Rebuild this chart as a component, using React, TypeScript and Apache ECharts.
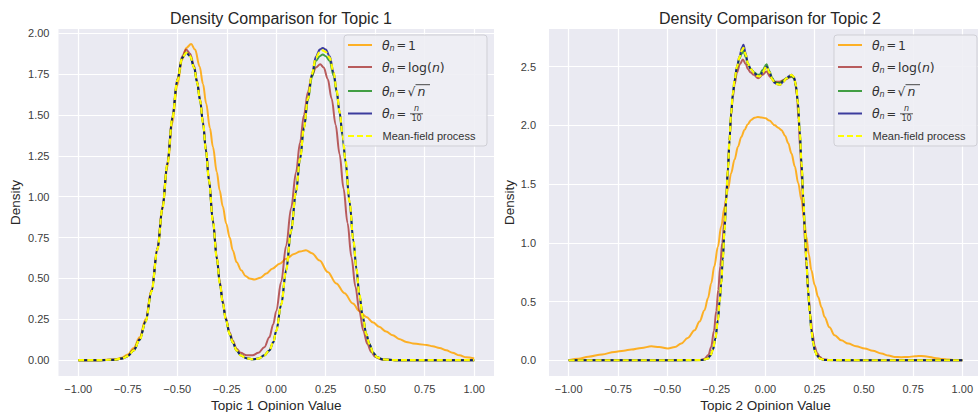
import React, { useEffect, useRef } from 'react';
import * as echarts from 'echarts';

type Pt = [number, number];

const titles = ['Density Comparison for Topic 1', 'Density Comparison for Topic 2'];
const xNames = ['Topic 1 Opinion Value', 'Topic 2 Opinion Value'];
const yName = 'Density';

const xTicks = [-1, -0.75, -0.5, -0.25, 0, 0.25, 0.5, 0.75, 1];
const yTicks1 = [0, 0.25, 0.5, 0.75, 1, 1.25, 1.5, 1.75, 2];
const yTicks2 = [0, 0.5, 1, 1.5, 2, 2.5];

const seriesNames = ['θn = 1', 'θn = log(n)', 'θn = √n', 'θn = n/10', 'Mean-field process'];
const seriesColors = ['#FFA500', '#A52A2A', '#008000', '#000080', '#FFFF00'];
const seriesOpacity = [0.85, 0.75, 0.72, 0.75, 1];

// ---------- Topic 1 ----------
const topic1Orange: Pt[] = [
  [-1, 0], [-0.9, 0], [-0.82, 0.005], [-0.78, 0.015], [-0.75, 0.035], [-0.72, 0.075], [-0.69, 0.14],
  [-0.66, 0.25], [-0.63, 0.43], [-0.6, 0.67], [-0.575, 0.92], [-0.55, 1.18], [-0.525, 1.45], [-0.5, 1.68],
  [-0.475, 1.84], [-0.455, 1.91], [-0.43, 1.934], [-0.41, 1.9], [-0.387, 1.795], [-0.37, 1.69],
  [-0.354, 1.57], [-0.335, 1.42], [-0.32, 1.305], [-0.3, 1.15], [-0.286, 1.04], [-0.27, 0.94],
  [-0.253, 0.837], [-0.235, 0.75], [-0.22, 0.673], [-0.2, 0.6], [-0.177, 0.55], [-0.155, 0.515],
  [-0.135, 0.5], [-0.11, 0.494], [-0.08, 0.505], [-0.05, 0.53], [-0.02, 0.56], [0.017, 0.59],
  [0.05, 0.62], [0.09, 0.65], [0.12, 0.665], [0.15, 0.673], [0.18, 0.655], [0.219, 0.61],
  [0.26, 0.54], [0.303, 0.47], [0.345, 0.41], [0.387, 0.347], [0.42, 0.3], [0.455, 0.265],
  [0.49, 0.23], [0.52, 0.204], [0.555, 0.175], [0.589, 0.153], [0.62, 0.13], [0.657, 0.112],
  [0.69, 0.103], [0.724, 0.098], [0.76, 0.093], [0.79, 0.086], [0.825, 0.075], [0.859, 0.061],
  [0.89, 0.046], [0.926, 0.03], [0.96, 0.018], [1, 0.01],
];
const topic1Red: Pt[] = [
  [-1, 0], [-0.9, 0], [-0.82, 0.003], [-0.78, 0.01], [-0.75, 0.027], [-0.72, 0.065], [-0.69, 0.13],
  [-0.66, 0.24], [-0.63, 0.43], [-0.6, 0.69], [-0.575, 0.94], [-0.55, 1.21], [-0.525, 1.49], [-0.5, 1.72],
  [-0.475, 1.86], [-0.455, 1.9], [-0.435, 1.875], [-0.415, 1.8], [-0.4, 1.71], [-0.385, 1.6],
  [-0.37, 1.46], [-0.355, 1.29], [-0.34, 1.11], [-0.32, 0.86], [-0.3, 0.63], [-0.285, 0.48],
  [-0.27, 0.36], [-0.255, 0.26], [-0.235, 0.17], [-0.22, 0.12], [-0.2, 0.07], [-0.18, 0.045],
  [-0.15, 0.03], [-0.12, 0.03], [-0.09, 0.045], [-0.06, 0.08], [-0.035, 0.14], [-0.015, 0.22],
  [0, 0.3], [0.025, 0.48], [0.05, 0.7], [0.075, 0.93], [0.1, 1.15], [0.12, 1.33], [0.14, 1.5],
  [0.16, 1.64], [0.18, 1.74], [0.2, 1.79], [0.222, 1.81], [0.24, 1.79], [0.26, 1.72], [0.28, 1.6],
  [0.3, 1.44], [0.32, 1.26], [0.34, 1.05], [0.36, 0.84], [0.38, 0.63], [0.4, 0.45], [0.42, 0.3],
  [0.44, 0.18], [0.46, 0.1], [0.48, 0.05], [0.5, 0.02], [0.53, 0.005], [0.6, 0], [0.8, 0], [1, 0],
];
const topic1Green: Pt[] = [
  [-1, 0], [-0.9, 0], [-0.82, 0.003], [-0.78, 0.01], [-0.75, 0.025], [-0.72, 0.06], [-0.69, 0.125],
  [-0.66, 0.235], [-0.63, 0.42], [-0.6, 0.68], [-0.575, 0.93], [-0.55, 1.2], [-0.525, 1.48], [-0.5, 1.71],
  [-0.475, 1.85], [-0.455, 1.88], [-0.435, 1.86], [-0.415, 1.79], [-0.4, 1.7], [-0.385, 1.59],
  [-0.37, 1.45], [-0.355, 1.28], [-0.34, 1.1], [-0.32, 0.85], [-0.3, 0.62], [-0.285, 0.47],
  [-0.27, 0.35], [-0.255, 0.25], [-0.235, 0.16], [-0.22, 0.11], [-0.2, 0.06], [-0.18, 0.03],
  [-0.15, 0.012], [-0.12, 0.006], [-0.09, 0.01], [-0.06, 0.03], [-0.035, 0.06], [-0.015, 0.11],
  [0, 0.18], [0.025, 0.34], [0.05, 0.55], [0.075, 0.79], [0.1, 1.03], [0.12, 1.23], [0.14, 1.42],
  [0.16, 1.59], [0.18, 1.73], [0.2, 1.83], [0.22, 1.86], [0.235, 1.87], [0.25, 1.86], [0.27, 1.83],
  [0.29, 1.74], [0.305, 1.64], [0.32, 1.51], [0.335, 1.37], [0.35, 1.21], [0.37, 0.97], [0.39, 0.73],
  [0.405, 0.56], [0.42, 0.4], [0.437, 0.265], [0.455, 0.16], [0.47, 0.1], [0.49, 0.045], [0.51, 0.018],
  [0.54, 0.005], [0.6, 0], [0.8, 0], [1, 0],
];
const topic1Blue: Pt[] = [
  [-1, 0], [-0.9, 0], [-0.82, 0.003], [-0.78, 0.01], [-0.75, 0.025], [-0.72, 0.06], [-0.69, 0.125],
  [-0.66, 0.235], [-0.63, 0.42], [-0.6, 0.68], [-0.575, 0.93], [-0.55, 1.2], [-0.525, 1.48], [-0.5, 1.71],
  [-0.475, 1.85], [-0.455, 1.88], [-0.435, 1.86], [-0.415, 1.79], [-0.4, 1.7], [-0.385, 1.59],
  [-0.37, 1.45], [-0.355, 1.28], [-0.34, 1.1], [-0.32, 0.85], [-0.3, 0.62], [-0.285, 0.47],
  [-0.27, 0.35], [-0.255, 0.25], [-0.235, 0.16], [-0.22, 0.11], [-0.2, 0.06], [-0.18, 0.03],
  [-0.15, 0.012], [-0.12, 0.006], [-0.09, 0.01], [-0.06, 0.03], [-0.035, 0.06], [-0.015, 0.11],
  [0, 0.18], [0.025, 0.34], [0.05, 0.55], [0.075, 0.79], [0.1, 1.03], [0.12, 1.23], [0.14, 1.42],
  [0.16, 1.6], [0.18, 1.75], [0.2, 1.856], [0.22, 1.9], [0.235, 1.91], [0.25, 1.9], [0.27, 1.86],
  [0.29, 1.76], [0.305, 1.65], [0.32, 1.52], [0.335, 1.38], [0.35, 1.22], [0.37, 0.97], [0.39, 0.73],
  [0.405, 0.56], [0.42, 0.4], [0.437, 0.265], [0.455, 0.16], [0.47, 0.1], [0.49, 0.045], [0.51, 0.018],
  [0.54, 0.005], [0.6, 0], [0.8, 0], [1, 0],
];
const topic1MeanField: Pt[] = [
  [-1, 0], [-0.9, 0], [-0.82, 0.003], [-0.78, 0.01], [-0.75, 0.025], [-0.72, 0.06], [-0.69, 0.125],
  [-0.66, 0.235], [-0.63, 0.42], [-0.6, 0.68], [-0.575, 0.93], [-0.55, 1.2], [-0.525, 1.48], [-0.5, 1.71],
  [-0.475, 1.85], [-0.455, 1.88], [-0.435, 1.86], [-0.415, 1.79], [-0.4, 1.7], [-0.385, 1.59],
  [-0.37, 1.45], [-0.355, 1.28], [-0.34, 1.1], [-0.32, 0.85], [-0.3, 0.62], [-0.285, 0.47],
  [-0.27, 0.35], [-0.255, 0.25], [-0.235, 0.16], [-0.22, 0.11], [-0.2, 0.06], [-0.18, 0.03],
  [-0.15, 0.012], [-0.12, 0.006], [-0.09, 0.01], [-0.06, 0.03], [-0.035, 0.06], [-0.015, 0.11],
  [0, 0.18], [0.025, 0.34], [0.05, 0.55], [0.075, 0.79], [0.1, 1.03], [0.12, 1.23], [0.14, 1.42],
  [0.16, 1.6], [0.18, 1.75], [0.2, 1.85], [0.22, 1.885], [0.235, 1.895], [0.25, 1.885], [0.27, 1.85],
  [0.29, 1.76], [0.305, 1.65], [0.32, 1.52], [0.335, 1.38], [0.35, 1.22], [0.37, 0.97], [0.39, 0.73],
  [0.405, 0.56], [0.42, 0.4], [0.437, 0.265], [0.455, 0.16], [0.47, 0.1], [0.49, 0.045], [0.51, 0.018],
  [0.54, 0.005], [0.6, 0], [0.8, 0], [1, 0],
];

// ---------- Topic 2 ----------
const topic2Orange: Pt[] = [
  [-1, 0], [-0.95, 0.012], [-0.9, 0.03], [-0.83, 0.05], [-0.767, 0.071], [-0.72, 0.082], [-0.682, 0.091],
  [-0.63, 0.105], [-0.58, 0.119], [-0.54, 0.112], [-0.496, 0.1], [-0.46, 0.112], [-0.428, 0.142],
  [-0.395, 0.19], [-0.36, 0.256], [-0.335, 0.33], [-0.31, 0.426], [-0.292, 0.53], [-0.276, 0.654],
  [-0.26, 0.8], [-0.242, 0.966], [-0.225, 1.14], [-0.208, 1.307], [-0.19, 1.46], [-0.175, 1.59],
  [-0.157, 1.71], [-0.14, 1.818], [-0.123, 1.9], [-0.107, 1.96], [-0.09, 2.01], [-0.073, 2.046],
  [-0.055, 2.065], [-0.039, 2.07], [-0.02, 2.067], [0, 2.06], [0.02, 2.04], [0.047, 2.0], [0.065, 1.98],
  [0.081, 1.96], [0.1, 1.91], [0.115, 1.85], [0.132, 1.76], [0.149, 1.65], [0.166, 1.51], [0.183, 1.364],
  [0.196, 1.2], [0.208, 1.05], [0.22, 0.9], [0.233, 0.767], [0.25, 0.64], [0.267, 0.54], [0.285, 0.45],
  [0.3, 0.369], [0.325, 0.28], [0.351, 0.213], [0.385, 0.17], [0.42, 0.142], [0.46, 0.12], [0.504, 0.1],
  [0.545, 0.08], [0.589, 0.057], [0.625, 0.04], [0.656, 0.028], [0.69, 0.026], [0.724, 0.028],
  [0.76, 0.034], [0.792, 0.037], [0.825, 0.03], [0.86, 0.02], [0.9, 0.01], [0.927, 0.006], [0.96, 0.002],
  [1, 0],
];
const topic2Red: Pt[] = [
  [-1, 0], [-0.5, 0], [-0.33, 0.003], [-0.31, 0.012], [-0.29, 0.045], [-0.276, 0.113], [-0.262, 0.25],
  [-0.25, 0.42], [-0.24, 0.6], [-0.23, 0.8], [-0.22, 1.0], [-0.208, 1.2], [-0.2, 1.4], [-0.191, 1.64],
  [-0.183, 1.87], [-0.175, 2.08], [-0.166, 2.24], [-0.157, 2.35], [-0.145, 2.45], [-0.13, 2.52],
  [-0.115, 2.56], [-0.1, 2.52], [-0.09, 2.48], [-0.075, 2.45], [-0.06, 2.43], [-0.037, 2.4],
  [-0.015, 2.43], [0.005, 2.458], [0.025, 2.41], [0.047, 2.37], [0.07, 2.37], [0.1, 2.39], [0.125, 2.41],
  [0.14, 2.415], [0.15, 2.38], [0.16, 2.25], [0.168, 2.05], [0.176, 1.8], [0.185, 1.52], [0.193, 1.26],
  [0.201, 1.0], [0.21, 0.76], [0.219, 0.55], [0.228, 0.38], [0.238, 0.24], [0.25, 0.12], [0.262, 0.06],
  [0.276, 0.03], [0.29, 0.01], [0.32, 0.002], [0.5, 0], [1, 0],
];
const topic2Green: Pt[] = [
  [-1, 0], [-0.5, 0], [-0.32, 0.002], [-0.293, 0.014], [-0.28, 0.04], [-0.268, 0.085], [-0.255, 0.18],
  [-0.242, 0.34], [-0.233, 0.5], [-0.225, 0.654], [-0.217, 0.86], [-0.208, 1.108], [-0.2, 1.36],
  [-0.191, 1.62], [-0.183, 1.87], [-0.175, 2.09], [-0.166, 2.26], [-0.157, 2.38], [-0.145, 2.49],
  [-0.132, 2.57], [-0.12, 2.61], [-0.112, 2.635], [-0.1, 2.58], [-0.09, 2.52], [-0.075, 2.48],
  [-0.056, 2.45], [-0.04, 2.43], [-0.03, 2.43], [-0.015, 2.47], [0.005, 2.52], [0.02, 2.46], [0.035, 2.4],
  [0.047, 2.37], [0.06, 2.36], [0.073, 2.36], [0.09, 2.38], [0.107, 2.4], [0.12, 2.41], [0.132, 2.42],
  [0.145, 2.4], [0.155, 2.33], [0.165, 2.19], [0.174, 1.95], [0.183, 1.677], [0.192, 1.39], [0.2, 1.108],
  [0.208, 0.84], [0.216, 0.597], [0.225, 0.41], [0.233, 0.256], [0.242, 0.15], [0.25, 0.085],
  [0.262, 0.04], [0.276, 0.014], [0.3, 0.002], [0.5, 0], [1, 0],
];
const topic2Blue: Pt[] = [
  [-1, 0], [-0.5, 0], [-0.32, 0.002], [-0.293, 0.014], [-0.28, 0.04], [-0.268, 0.085], [-0.255, 0.18],
  [-0.242, 0.34], [-0.233, 0.5], [-0.225, 0.654], [-0.217, 0.86], [-0.208, 1.108], [-0.2, 1.36],
  [-0.191, 1.62], [-0.183, 1.87], [-0.175, 2.1], [-0.166, 2.27], [-0.157, 2.387], [-0.145, 2.5],
  [-0.132, 2.586], [-0.12, 2.66], [-0.112, 2.685], [-0.1, 2.61], [-0.09, 2.53], [-0.075, 2.48],
  [-0.056, 2.444], [-0.04, 2.42], [-0.03, 2.415], [-0.015, 2.45], [0.005, 2.5], [0.02, 2.45],
  [0.035, 2.39], [0.047, 2.36], [0.06, 2.35], [0.073, 2.344], [0.09, 2.37], [0.107, 2.4], [0.12, 2.42],
  [0.132, 2.43], [0.145, 2.41], [0.155, 2.34], [0.165, 2.19], [0.174, 1.95], [0.183, 1.677],
  [0.192, 1.39], [0.2, 1.108], [0.208, 0.84], [0.216, 0.597], [0.225, 0.41], [0.233, 0.256],
  [0.242, 0.15], [0.25, 0.085], [0.262, 0.04], [0.276, 0.014], [0.3, 0.002], [0.5, 0], [1, 0],
];
const topic2MeanField: Pt[] = [
  [-1, 0], [-0.5, 0], [-0.32, 0.002], [-0.293, 0.014], [-0.28, 0.04], [-0.268, 0.085], [-0.255, 0.18],
  [-0.242, 0.34], [-0.233, 0.5], [-0.225, 0.654], [-0.217, 0.86], [-0.208, 1.108], [-0.2, 1.36],
  [-0.191, 1.62], [-0.183, 1.87], [-0.175, 2.1], [-0.166, 2.27], [-0.157, 2.387], [-0.145, 2.5],
  [-0.132, 2.58], [-0.12, 2.64], [-0.112, 2.66], [-0.1, 2.6], [-0.09, 2.53], [-0.075, 2.48],
  [-0.056, 2.444], [-0.04, 2.42], [-0.03, 2.415], [-0.015, 2.45], [0.005, 2.5], [0.02, 2.45],
  [0.035, 2.39], [0.047, 2.36], [0.06, 2.35], [0.073, 2.344], [0.09, 2.37], [0.107, 2.4], [0.12, 2.42],
  [0.132, 2.43], [0.145, 2.41], [0.155, 2.34], [0.165, 2.19], [0.174, 1.95], [0.183, 1.677],
  [0.192, 1.39], [0.2, 1.108], [0.208, 0.84], [0.216, 0.597], [0.225, 0.41], [0.233, 0.256],
  [0.242, 0.15], [0.25, 0.085], [0.262, 0.04], [0.276, 0.014], [0.3, 0.002], [0.5, 0], [1, 0],
];

const topic1Series = [topic1Orange, topic1Red, topic1Green, topic1Blue, topic1MeanField];
const topic2Series = [topic2Orange, topic2Red, topic2Green, topic2Blue, topic2MeanField];

const FONT = '"Liberation Sans", Arial, sans-serif';
const MATH = '"DejaVu Sans", sans-serif';
const TEXT = '#262626';
const TICK = '#3c3c3c';
const BG = '#EAEAF2';

function fmt(dec: number) {
  return (v: number) => (v < 0 ? '\u2212' : '') + Math.abs(v).toFixed(dec);
}

function xAxisFor(gi: number) {
  return {
    type: 'value', gridIndex: gi, min: -1.1, max: 1.1,
    name: xNames[gi], nameLocation: 'middle', nameGap: 19,
    nameTextStyle: { fontFamily: FONT, fontSize: 13.5, color: TEXT, lineHeight: 14 },
    axisLine: { show: false },
    axisTick: { show: false, customValues: xTicks },
    axisLabel: { customValues: xTicks, formatter: fmt(2), fontFamily: FONT, fontSize: 11, color: TICK, margin: 7 },
    splitLine: { show: true, lineStyle: { color: '#ffffff', width: 1.2 } },
  };
}

function yAxisFor(gi: number, ticks: number[], min: number, max: number, dec: number, gap: number, margin: number) {
  return {
    type: 'value', gridIndex: gi, min, max,
    name: yName, nameLocation: 'middle', nameGap: gap, nameRotate: 90,
    nameTextStyle: { fontFamily: FONT, fontSize: 13.5, color: TEXT },
    axisLine: { show: false },
    axisTick: { show: false, customValues: ticks },
    axisLabel: { customValues: ticks, formatter: fmt(dec), fontFamily: FONT, fontSize: 11, color: TICK, margin },
    splitLine: { show: true, lineStyle: { color: '#ffffff', width: 1.2 } },
  };
}

function buildSeries(list: Pt[][], gi: number) {
  return list.map((data, i) => ({
    type: 'line', name: seriesNames[i], data, xAxisIndex: gi, yAxisIndex: gi,
    symbol: 'none', showSymbol: false, smooth: 0.35, smoothMonotone: 'x', silent: true,
    z: 2 + i,
    lineStyle: {
      color: seriesColors[i], opacity: seriesOpacity[i],
      width: i === 4 ? 2.2 : 2,
      type: i === 4 ? [6, 3] : 'solid',
    },
  }));
}

const ROWS = [45, 67, 91, 113.5, 136];

function txt(x: number, y: number, text: string, size: number, italic: boolean, family = MATH, align = 'left') {
  return {
    type: 'text', x, y, z: 102, silent: true,
    style: {
      text, fill: '#333333', fontSize: size, fontFamily: family,
      fontStyle: italic ? 'italic' : 'normal',
      align, textAlign: align, verticalAlign: 'middle', textVerticalAlign: 'middle',
    },
  };
}

function ln(x1: number, y1: number, x2: number, y2: number, color: string, w: number, dash?: number[], opacity = 1) {
  return {
    type: 'line', z: 101, silent: true,
    shape: { x1, y1, x2, y2 },
    style: { stroke: color, lineWidth: w, lineDash: dash, opacity },
  };
}

function buildLegend(ox: number) {
  const els: any[] = [];
  els.push({
    type: 'rect', z: 100, silent: true,
    shape: { x: 344 + ox, y: 35, width: 143, height: 111, r: 3 },
    style: { fill: 'rgba(238,238,244,0.9)', stroke: '#CFCFD5', lineWidth: 1 },
  });
  ROWS.forEach((y, i) => {
    els.push(ln(348 + ox, y, 372 + ox, y, seriesColors[i], i === 4 ? 2.2 : 2, i === 4 ? [6, 3] : undefined, seriesOpacity[i]));
  });
  for (let i = 0; i < 4; i++) {
    const y = ROWS[i];
    els.push(txt(382 + ox, y, 'θ', 12.5, true));
    els.push(txt(389.5 + ox, y + 3.2, 'n', 8, true));
    els.push(txt(396.5 + ox, y, '=', 11.5, false));
  }
  els.push(txt(408 + ox, ROWS[0], '1', 12.5, false));
  els.push({
    type: 'text', x: 408 + ox, y: ROWS[1], z: 102, silent: true,
    style: {
      text: '{u|log(}{i|n}{u|)}', fill: '#333333', fontSize: 12.5, fontFamily: MATH,
      align: 'left', textAlign: 'left', verticalAlign: 'middle', textVerticalAlign: 'middle',
      rich: {
        u: { fontSize: 12.5, fontFamily: MATH, fill: '#333333' },
        i: { fontSize: 12.5, fontFamily: MATH, fontStyle: 'italic', fill: '#333333' },
      },
    },
  });
  els.push(txt(407.5 + ox, ROWS[2] + 0.5, '√', 12.5, false));
  els.push(txt(417.5 + ox, ROWS[2] + 0.5, 'n', 12.5, true));
  els.push(ln(415.5 + ox, ROWS[2] - 6.3, 430 + ox, ROWS[2] - 6.3, '#333333', 0.9));
  els.push(txt(416.5 + ox, ROWS[3] - 4.6, 'n', 8, true, MATH, 'center'));
  els.push(ln(410 + ox, ROWS[3] + 0.3, 423 + ox, ROWS[3] + 0.3, '#333333', 0.8));
  els.push(txt(416.5 + ox, ROWS[3] + 5.2, '10', 8, false, MATH, 'center'));
  els.push(txt(382.5 + ox, ROWS[4], 'Mean-field process', 11, false, FONT));
  return els;
}

const option: any = {
  animation: false,
  backgroundColor: '#ffffff',
  title: [
    { text: titles[0], left: 276, top: 5, textAlign: 'center', textStyle: { fontFamily: FONT, fontSize: 16, fontWeight: 'normal', color: TEXT } },
    { text: titles[1], left: 765, top: 5, textAlign: 'center', textStyle: { fontFamily: FONT, fontSize: 16, fontWeight: 'normal', color: TEXT } },
  ],
  grid: [
    { left: 58.5, top: 29, width: 435.5, height: 347, show: true, backgroundColor: BG, borderWidth: 0, containLabel: false, outerBoundsMode: 'none' },
    { left: 549, top: 29, width: 433, height: 347, show: true, backgroundColor: BG, borderWidth: 0, containLabel: false, outerBoundsMode: 'none' },
  ],
  xAxis: [xAxisFor(0), xAxisFor(1)],
  yAxis: [
    yAxisFor(0, yTicks1, -0.0965, 2.026, 2, 36, 9),
    yAxisFor(1, yTicks2, -0.134, 2.82, 1, 24, 13),
  ],
  series: [...buildSeries(topic1Series, 0), ...buildSeries(topic2Series, 1)],
  graphic: { elements: [...buildLegend(0), ...buildLegend(490)] },
};

export default function App() {
  const ref = useRef<HTMLDivElement>(null);
  useEffect(() => {
    if (!ref.current) return;
    const chart = echarts.init(ref.current, null, { renderer: 'svg' });
    chart.setOption(option);
    return () => chart.dispose();
  }, []);
  return (
    <div
      ref={ref}
      style={{ position: 'fixed', left: 0, top: 0, width: 978, height: 412, background: '#ffffff' }}
    />
  );
}
